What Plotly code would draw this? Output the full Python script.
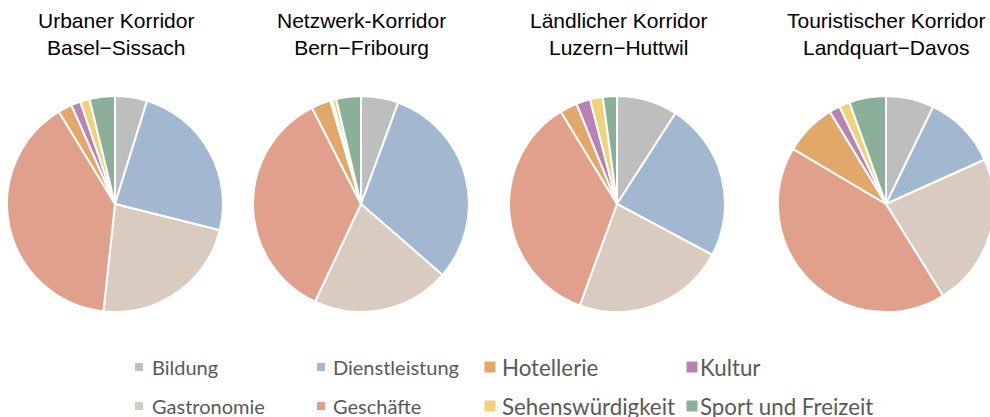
import plotly.graph_objects as go

categories = ["Bildung", "Dienstleistung", "Gastronomie", "Geschäfte",
              "Hotellerie", "Kultur", "Sehenswürdigkeit", "Sport und Freizeit"]
colors = ["#BEBEBE", "#A2B8D0", "#D9CBBF", "#E0A08C",
          "#E2A86A", "#B883B2", "#EFD27A", "#8AB09A"]

titles = ["Urbaner Korridor<br>Basel\u2212Sissach",
          "Netzwerk-Korridor<br>Bern\u2212Fribourg",
          "Ländlicher Korridor<br>Luzern\u2212Huttwil",
          "Touristischer Korridor<br>Landquart\u2212Davos"]

basel_sissach = [4.8, 24.1, 22.8, 39.6, 2.1, 1.4, 1.4, 3.8]
bern_fribourg = [5.6, 30.8, 20.6, 35.5, 2.9, 0.3, 0.6, 3.7]
luzern_huttwil = [9.1, 23.7, 22.8, 35.7, 2.6, 2.1, 1.9, 2.1]
landquart_davos = [7.2, 11.1, 22.9, 42.4, 7.8, 1.6, 1.6, 5.5]
series = [basel_sissach, bern_fribourg, luzern_huttwil, landquart_davos]

# legend layout: category index per row/column
legend_rows = [[0, 1, 4, 5], [2, 3, 6, 7]]

W, H = 1000, 417   # figure slightly wider than the window so the last pie is clipped
centers_x = [115, 361, 617, 886]
title_x = [116, 361, 618, 886]
R = 108
cy = 204

fig = go.Figure()
for i, vals in enumerate(series):
    cx = centers_x[i]
    fig.add_trace(go.Pie(
        labels=categories, values=vals, sort=False, direction="clockwise",
        rotation=0, marker=dict(colors=colors, line=dict(color="white", width=2)),
        textinfo="none", hoverinfo="label+percent", showlegend=False,
        domain=dict(x=[(cx - R) / W, (cx + R) / W], y=[1 - (cy + R) / H, 1 - (cy - R) / H]),
    ))
    fig.add_annotation(x=title_x[i] / W, y=1 - 34 / H, xref="paper", yref="paper",
                       text=titles[i], showarrow=False, xanchor="center", yanchor="middle",
                       font=dict(family="Liberation Sans, Arial", size=21, color="#000000"),
                       align="center")

col_marker_x = [139, 321, 490, 692]
col_text_x = [152, 333, 502, 700]
col_font = [20, 20, 22.3, 22.3]
col_marker_half = [4, 4, 5.5, 5.5]
row_y = [367, 406]
shapes = []
for r, row in enumerate(legend_rows):
    for c, ci in enumerate(row):
        mx = col_marker_x[c]
        my = row_y[r]
        h = col_marker_half[c]
        shapes.append(dict(type="rect", xref="paper", yref="paper",
                           x0=(mx - h) / W, x1=(mx + h) / W,
                           y0=1 - (my + h) / H, y1=1 - (my - h) / H,
                           fillcolor=colors[ci], line=dict(width=0)))
        fig.add_annotation(x=(col_text_x[c] - 2) / W, y=1 - my / H, xref="paper", yref="paper",
                           text=categories[ci], showarrow=False, xanchor="left", yanchor="middle",
                           font=dict(family="Lato", size=col_font[c], color="#595959"))

fig.update_layout(width=W, height=H, margin=dict(l=0, r=0, t=0, b=0),
                  paper_bgcolor="white", plot_bgcolor="white", shapes=shapes)
fig.write_html("out.html", config={"displayModeBar": False},
               post_script="document.body.style.margin='0';document.body.style.overflow='hidden';"
                           "document.documentElement.style.overflow='hidden';")
